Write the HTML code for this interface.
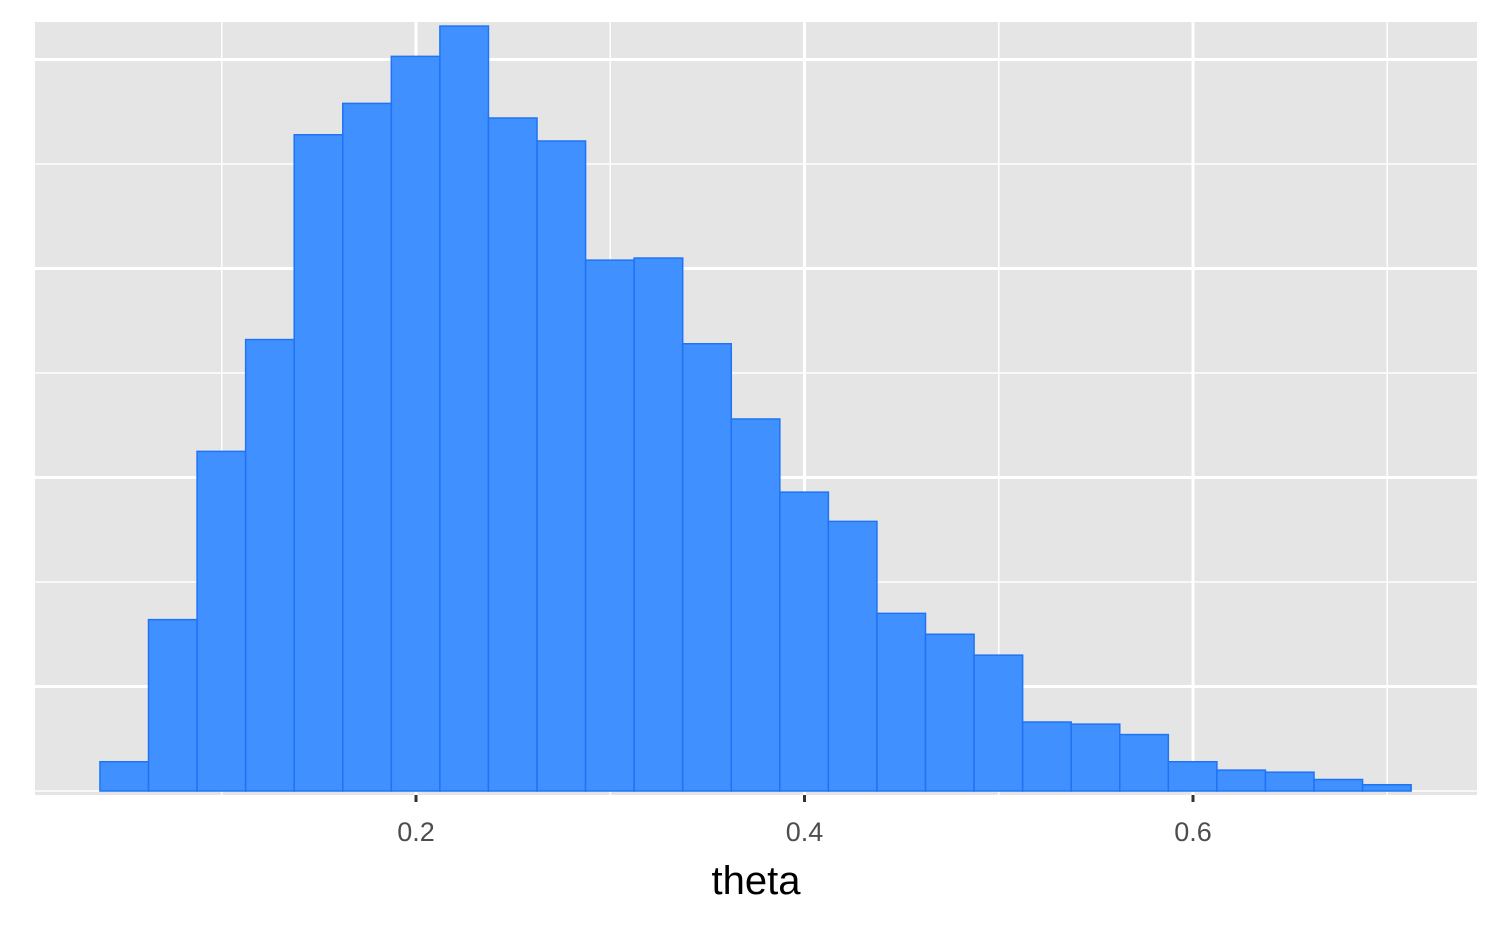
<!DOCTYPE html>
<html><head><meta charset="utf-8"><style>
html,body{margin:0;padding:0;background:#fff;}
svg{display:block;font-family:"Liberation Sans",Arial,sans-serif;}
</style></head><body>
<svg id="chart" width="1500" height="927" viewBox="0 0 1500 927"></svg>
<script>
const binStart = 0.0373;
const binWidth = 0.025;
const counts = [28,164,325,432,628,658,703,732,644,622,508,510,428,356,286,258,170,150,130,66,64,54,28,20,18,11,6];
const xTicks = [0.2,0.4,0.6];
const xTickLabels = ["0.2","0.4","0.6"];
const xMinor = [0.1,0.3,0.5,0.7];
const yGrid = [0,100,200,300,400,500,600,700];

const NS="http://www.w3.org/2000/svg";
const svg=document.getElementById('chart');
const P={l:35,r:1477,t:22,b:795};
const xs=v=>416+(v-0.2)*1942.5;
const ys=v=>791-v*1.045;
function mk(tag,attrs,parent){const e=document.createElementNS(NS,tag);for(const k in attrs)e.setAttribute(k,attrs[k]);(parent||svg).appendChild(e);return e;}

const panel=mk('rect',{x:P.l,y:P.t,width:P.r-P.l,height:P.b-P.t,fill:'#e5e5e5'});



yGrid.forEach((v,i)=>{const y=ys(v);if(y<P.t)return;
const g=mk('line',{x1:P.l,x2:P.r,y1:y,y2:y,stroke:'#fff','stroke-width':i%2?3:1.5});

});
xMinor.forEach(v=>{const x=xs(v);
const g=mk('line',{x1:x,x2:x,y1:P.t,y2:P.b,stroke:'#fff','stroke-width':1.5});

});
xTicks.forEach(v=>{const x=xs(v);
const g=mk('line',{x1:x,x2:x,y1:P.t,y2:P.b,stroke:'#fff','stroke-width':3});

});

counts.forEach((c,i)=>{const x0=xs(binStart+i*binWidth),x1=xs(binStart+(i+1)*binWidth);
const r=mk('rect',{x:x0,y:ys(c),width:x1-x0,height:ys(0)-ys(c),fill:'#4190ff',stroke:'#1f74f5','stroke-width':1.5});

});

xTicks.forEach((v,i)=>{const x=xs(v);
const t=mk('line',{x1:x,x2:x,y1:P.b,y2:P.b+7,stroke:'#333','stroke-width':3});


const l=mk('text',{x:x,y:841,'text-anchor':'middle','font-size':27,fill:'#4d4d4d'});
l.textContent=xTickLabels[i];

});

const title=mk('text',{x:(P.l+P.r)/2,y:894,'text-anchor':'middle','font-size':40,fill:'#000'});
title.textContent='theta';


</script>
</body></html>
